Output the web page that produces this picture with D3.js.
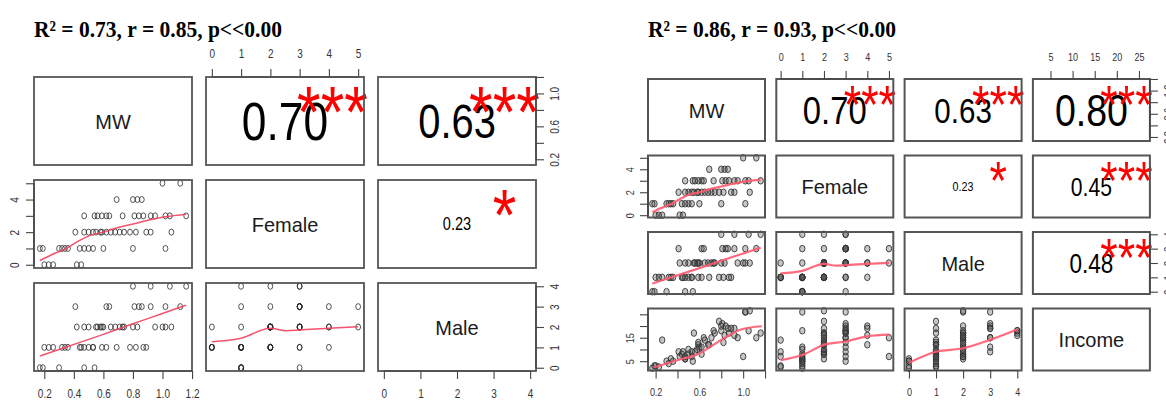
<!DOCTYPE html>
<html>
<head>
<meta charset="utf-8">
<script src="https://cdn.jsdelivr.net/npm/d3@7/dist/d3.min.js"></script>
<style>
body { margin: 0; background: #fff; }
svg { display: block; }
</style>
</head>
<body>
<div id="graph"></div>
<script>
// one entry per respondent, grouped by number of female members
var mw = [0.20, 0.23, 0.26, 0.42, 0.45,
	0.17, 0.19, 0.30, 0.32, 0.34, 0.36, 0.44, 0.47, 0.50, 0.53, 0.60, 0.80, 1.02,
	0.41, 0.47, 0.50, 0.53, 0.55, 0.58, 0.59, 0.62, 0.65, 0.68, 0.71, 0.74, 0.78, 0.82, 0.89, 0.92, 1.06,
	0.47, 0.54, 0.56, 0.59, 0.62, 0.64, 0.73, 0.81, 0.84, 0.87, 0.92, 0.95, 1.02, 1.05, 1.16,
	0.69, 0.80, 0.83, 0.86,
	1.00, 1.12];
var female = [0, 0, 0, 0, 0,
	1, 1, 1, 1, 1, 1, 1, 1, 1, 1, 1, 1, 1,
	2, 2, 2, 2, 2, 2, 2, 2, 2, 2, 2, 2, 2, 2, 2, 2, 2,
	3, 3, 3, 3, 3, 3, 3, 3, 3, 3, 3, 3, 3, 3, 3,
	4, 4, 4, 4,
	5, 5];
var male = [1, 1, 1, 2, 1,
	0, 0, 0, 1, 1, 1, 1, 0, 1, 1, 2, 4, 3,
	3, 2, 2, 1, 2, 2, 1, 1, 2, 2, 2, 2, 1, 1, 1, 4, 2,
	1, 0, 2, 2, 3, 3, 2, 3, 3, 1, 3, 2, 2, 4, 4,
	1, 2, 2, 3,
	2, 3];
var income = [3, 2.5, 14, 7, 9,
	2, 3, 5, 4, 6, 5, 8, 6, 10, 7, 11, 18, 26,
	9, 6, 8, 9, 17, 10, 12, 8, 14, 12, 15, 17, 22, 13, 19, 16, 26.5,
	7, 5, 9, 13, 11, 15, 18, 21, 20, 17, 19, 15, 26, 18, 17,
	12, 20, 16, 19,
	7, 15];

var leftVars = ["MW", "Female", "Male"];
var rightVars = ["MW", "Female", "Male", "Income"];
var leftTitle = "R\u00b2 = 0.73, r = 0.85, p<<0.00";
var rightTitle = "R\u00b2 = 0.86, r = 0.93, p<<0.00";

// upper triangle, read row by row
var leftCor = ["0.70", "0.63", "0.23"];
var leftStars = ["***", "***", "*"];
var rightCor = ["0.70", "0.63", "0.80", "0.23", "0.45", "0.48"];
var rightStars = ["***", "***", "***", "*", "***", "***"];

// red smoother lines
var smMwFemaleX = [0.17, 0.26, 0.35, 0.44, 0.51, 0.60, 0.69, 0.80, 0.91, 1.02, 1.16];
var smMwFemaleY = [0.26, 0.66, 1.00, 1.50, 1.80, 2.00, 2.26, 2.50, 2.74, 2.94, 3.10];
var smMwMaleX = [0.17, 0.35, 0.58, 0.80, 0.98, 1.16];
var smMwMaleY = [0.57, 1.02, 1.59, 2.16, 2.61, 3.07];
var smFemaleMaleX = [0, 1, 2, 2.55, 3, 4, 5];
var smFemaleMaleY = [1.28, 1.45, 1.94, 1.82, 1.85, 1.94, 2.01];
var smMwIncomeX = [0.18, 0.40, 0.60, 0.80, 0.98, 1.17];
var smMwIncomeY = [2.3, 5.4, 8.3, 14.1, 18.5, 19.9];
var smFemaleIncomeX = [0, 1, 2, 3, 4, 5];
var smFemaleIncomeY = [5.4, 7.6, 12.0, 13.4, 15.6, 16.3];
var smMaleIncomeX = [0, 1, 2, 3, 4];
var smMaleIncomeY = [4.3, 9.0, 10.5, 14.1, 18.5];

// tick marks and the labels R kept on them
var mwTicks = [0.2, 0.4, 0.6, 0.8, 1.0, 1.2];
var femaleTicks = [0, 1, 2, 3, 4, 5];
var maleTicks = [0, 1, 2, 3, 4];
var incomeTicks = [5, 10, 15, 20, 25];
var mwFewLabels = [0.2, 0.6, 1.0];
var femaleFewLabels = [0, 2, 4];
var incomeFewLabels = [5, 15];

var columns = {MW: mw, Female: female, Male: male, Income: income};
var ticks = {MW: mwTicks, Female: femaleTicks, Male: maleTicks, Income: incomeTicks};
var formats = {MW: d3.format(".1f"), Female: d3.format("d"), Male: d3.format("d"), Income: d3.format("d")};
var smoothers = {
	"MW-Female": [smMwFemaleX, smMwFemaleY],
	"MW-Male": [smMwMaleX, smMwMaleY],
	"Female-Male": [smFemaleMaleX, smFemaleMaleY],
	"MW-Income": [smMwIncomeX, smMwIncomeY],
	"Female-Income": [smFemaleIncomeX, smFemaleIncomeY],
	"Male-Income": [smMaleIncomeX, smMaleIncomeY]
};

var W = 1166, H = 400;
var svg = d3.select("div#graph").append("svg").attr("width", W).attr("height", H);

var SANS = "'Liberation Sans', Arial, sans-serif";

// R's pairs() pads every range by 4%
function padded(arr) {
	var e = d3.extent(arr), r = e[1] - e[0];
	return [e[0] - 0.04 * r, e[1] + 0.04 * r];
}

// text that is a bit taller than wide, like the squeezed original; centred on (x,y)
function tallText(g, x, y, str, fs, k, mid) {
	return g.append("text")
		.attr("transform", "translate(" + x + "," + y + ") scale(1," + k + ")")
		.attr("y", mid * fs)
		.attr("text-anchor", "middle")
		.style("font-family", SANS)
		.style("font-size", fs + "px")
		.text(str);
}

function drawPairs(p) {
	var g = svg.append("g");
	var n = p.vars.length;
	var xs = [], ys = [];
	p.vars.forEach(function(v, i) {
		var left = p.x0 + i * p.colStep, top = p.y0 + i * p.rowStep;
		xs.push(d3.scaleLinear().domain(padded(columns[v])).range([left, left + p.w]));
		ys.push(d3.scaleLinear().domain(padded(columns[v])).range([top + p.h, top]));
	});

	// title
	g.append("text")
		.attr("transform", "translate(" + p.x0 + ",37) scale(1,1.12)")
		.attr("textLength", 248).attr("lengthAdjust", "spacingAndGlyphs")
		.style("font-family", "'Liberation Serif', 'Times New Roman', serif")
		.style("font-weight", "bold").style("font-size", "21px")
		.text(p.title);

	var k = 0;
	for (var r = 0; r < n; r++) {
		for (var c = 0; c < n; c++) {
			var left = p.x0 + c * p.colStep, top = p.y0 + r * p.rowStep;
			var cell = g.append("g");
			if (r == c) {
				tallText(cell, left + p.w / 2, top + p.h / 2, p.vars[r], 20, 1.05, 0.36).attr("fill", "#1a1a1a");
			} else if (c > r) {
				var txt = p.cor[k], st = p.stars[k];
				k++;
				var fs = 0.78 * p.w * Math.abs(+txt) / 1.946;
				tallText(cell, left + p.w / 2, top + p.h / 2, txt, fs, 1.2, 0.358).attr("fill", "#000");
				var sfs = 0.745 * p.w / 1.946;
				tallText(cell, left + 0.8 * p.w, top + 0.2 * p.h, st, sfs, 1.2, 0.58).attr("fill", "#ff0000");
			} else {
				var xv = p.vars[c], yv = p.vars[r];
				var xsc = xs[c], ysc = ys[r];
				var xd = columns[xv], yd = columns[yv];
				cell.selectAll("ellipse").data(d3.range(xd.length)).enter().append("ellipse")
					.attr("cx", function(i) { return xsc(xd[i]); })
					.attr("cy", function(i) { return ysc(yd[i]); })
					.attr("rx", p.rx).attr("ry", p.ry)
					.attr("fill", p.fill)
					.attr("stroke", p.ptStroke)
					.attr("stroke-width", p.ptWidth);
				var sm = smoothers[xv + "-" + yv];
				var line = d3.line()
					.x(function(i) { return xsc(sm[0][i]); })
					.y(function(i) { return ysc(sm[1][i]); })
					.curve(d3.curveMonotoneX);
				cell.append("path")
					.attr("d", line(d3.range(sm[0].length)))
					.attr("fill", "none")
					.attr("stroke", p.smColor)
					.attr("stroke-width", p.smWidth)
					.attr("stroke-opacity", 0.9);
			}
			// panel frame on top
			cell.append("rect")
				.attr("x", left).attr("y", top).attr("width", p.w).attr("height", p.h)
				.attr("fill", "none").attr("stroke", "#555").attr("stroke-width", p.boxWidth);
		}
	}

	// outer axes
	p.axes.forEach(function(a) {
		var v = p.vars[a.v];
		var tv = ticks[v];
		var labs = a.labels || tv;
		var fmt = formats[v];
		var vertical = (a.side == "left" || a.side == "right");
		var scale = vertical ? ys[a.v] : xs[a.v];
		var maker = {top: d3.axisTop, bottom: d3.axisBottom, left: d3.axisLeft, right: d3.axisRight}[a.side];
		var ax = maker(scale).tickValues(tv).tickSizeOuter(0).tickSizeInner(p.tickLen)
			.tickFormat(function(d) { return labs.indexOf(d) >= 0 ? fmt(d) : ""; });
		var tx = 0, ty = 0;
		if (a.side == "top") ty = p.y0;
		if (a.side == "bottom") ty = p.y0 + (n - 1) * p.rowStep + p.h;
		if (a.side == "left") tx = p.x0;
		if (a.side == "right") tx = p.x0 + (n - 1) * p.colStep + p.w;
		var ag = g.append("g").attr("transform", "translate(" + tx + "," + ty + ")").call(ax);
		var s0 = scale(tv[0]), s1 = scale(tv[tv.length - 1]);
		ag.select(".domain").attr("d", vertical ? "M0," + s0 + "V" + s1 : "M" + s0 + ",0H" + s1)
			.attr("stroke", "#444").attr("stroke-width", 1.2);
		ag.selectAll(".tick line").attr("stroke", "#444").attr("stroke-width", 1.1);
		var off = p.labOff;
		var lt = ag.selectAll(".tick text")
			.attr("x", 0).attr("y", 0).attr("dy", "0.35em")
			.attr("text-anchor", "middle")
			.attr("fill", "#333")
			.style("font-family", SANS)
			.style("font-size", p.tickFs + "px");
		if (a.side == "top") lt.attr("transform", "translate(0," + (-off) + ") scale(1,1.25)");
		if (a.side == "bottom") lt.attr("transform", "translate(0," + off + ") scale(1,1.25)");
		if (a.side == "left") lt.attr("transform", "translate(" + (-p.sideOff) + ",0) rotate(-90) scale(1,1.25)");
		if (a.side == "right") lt.attr("transform", "translate(" + p.sideOff + ",0) rotate(-90) scale(1,1.25)");
	});
}

drawPairs({
	vars: leftVars, title: leftTitle, cor: leftCor, stars: leftStars,
	x0: 34, y0: 77, colStep: 172, rowStep: 103, w: 158, h: 88,
	rx: 2.4, ry: 3.0, fill: "none", ptStroke: "#2a2a2a", ptWidth: 0.8,
	smColor: "#f2405e", smWidth: 1.5, boxWidth: 1.8,
	tickLen: 8, labOff: 23, sideOff: 19, tickFs: 10,
	axes: [
		{side: "top", v: 1},
		{side: "bottom", v: 0},
		{side: "bottom", v: 2},
		{side: "left", v: 1, labels: femaleFewLabels},
		{side: "right", v: 0, labels: mwFewLabels},
		{side: "right", v: 2}
	]
});

drawPairs({
	vars: rightVars, title: rightTitle, cor: rightCor, stars: rightStars,
	x0: 648, y0: 79, colStep: 128.3, rowStep: 76.5, w: 117, h: 62,
	rx: 2.7, ry: 3.3, fill: "rgba(70,70,70,0.3)", ptStroke: "#333", ptWidth: 0.9,
	smColor: "#ff5a6e", smWidth: 2.2, boxWidth: 2,
	tickLen: 8, labOff: 22, sideOff: 18, tickFs: 9,
	axes: [
		{side: "top", v: 1},
		{side: "top", v: 3},
		{side: "bottom", v: 0, labels: mwFewLabels},
		{side: "bottom", v: 2},
		{side: "left", v: 1, labels: femaleFewLabels},
		{side: "left", v: 3, labels: incomeFewLabels},
		{side: "right", v: 0, labels: mwFewLabels},
		{side: "right", v: 2}
	]
});
</script>
</body>
</html>
